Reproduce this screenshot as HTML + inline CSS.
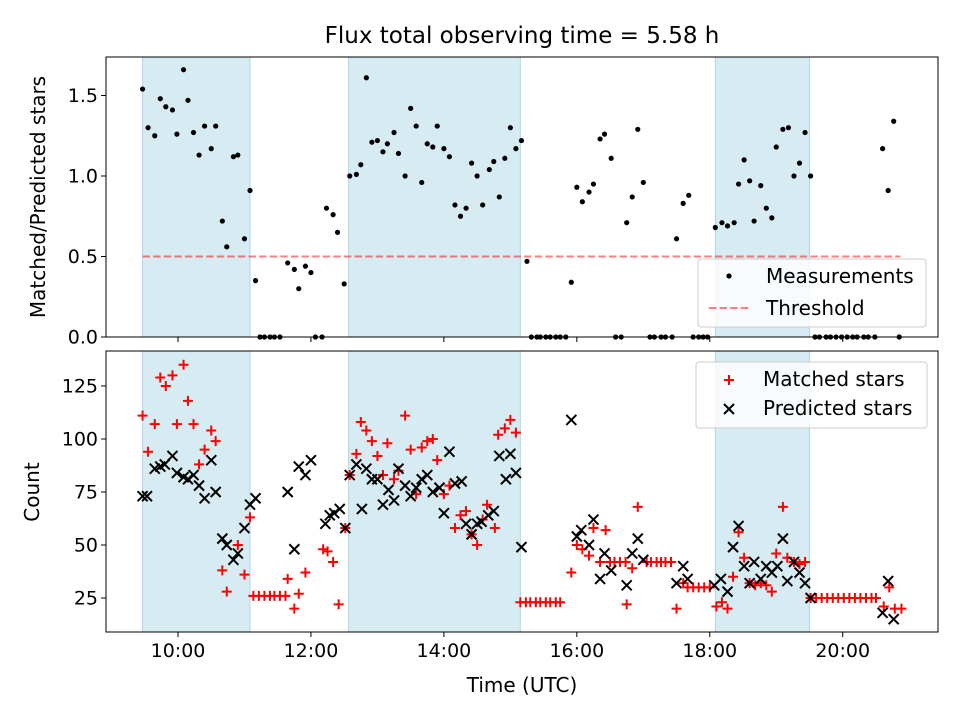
<!DOCTYPE html>
<html><head><meta charset="utf-8"><style>
body{margin:0;background:#fff}
svg{display:block;font-family:"DejaVu Sans","Liberation Sans",sans-serif}
</style></head><body>
<svg id="c" width="960" height="720" viewBox="0 0 960 720" xmlns="http://www.w3.org/2000/svg"></svg>
<script>
// Times are minutes after midnight (UTC)
const spans = [[568,665],[754,909],[1085,1170]];
const threshold = 0.5;
const ratioTimes = [568,573,579,584,589,595,599,605,609,614,619,624,630,634,640,644,650,654,660,665,670,674,678,683,687,692,699,705,709,715,720,724,730,734,740,744,750,755,761,765,770,775,780,785,789,795,799,805,810,815,820,825,830,834,840,845,850,855,860,865,870,875,881,885,890,895,900,905,910,915,919,924,927,932,936,941,945,950,955,960,965,971,975,981,985,991,995,1000,1005,1010,1015,1020,1026,1030,1036,1040,1046,1050,1056,1061,1065,1070,1074,1078,1085,1091,1096,1102,1106,1111,1116,1120,1126,1131,1136,1140,1146,1151,1156,1161,1166,1171,1175,1179,1185,1189,1194,1199,1204,1209,1213,1219,1223,1229,1236,1241,1246,1251];
const ratio = [1.54,1.30,1.25,1.48,1.43,1.41,1.26,1.66,1.47,1.27,1.13,1.31,1.17,1.31,0.72,0.56,1.12,1.13,0.61,0.91,0.35,0,0,0,0,0,0.46,0.42,0.30,0.44,0.40,0,0,0.80,0.76,0.65,0.33,1.00,1.01,1.07,1.61,1.21,1.22,1.15,1.20,1.27,1.14,1.00,1.42,1.31,0.96,1.20,1.18,1.31,1.17,1.12,0.82,0.75,0.80,1.08,1.00,0.82,1.04,1.09,0.87,1.11,1.30,1.17,1.22,0.47,0,0,0,0,0,0,0,0,0.34,0.93,0.84,0.90,0.95,1.23,1.26,1.11,0,0,0.71,0.87,1.29,0.96,0,0,0,0,0,0.61,0.83,0.88,0,0,0,0,0.68,0.71,0.69,0.71,0.95,1.10,0.97,0.72,0.94,0.80,0.74,1.18,1.29,1.30,1.00,1.08,1.27,1.00,0,0,0,0,0,0,0,0,0,0,0,0,1.17,0.91,1.34,0];
const matchedTimes = [568,573,579,584,589,595,599,605,609,614,619,624,630,634,640,644,654,660,665,668,673,678,683,687,692,697,699,705,709,715,731,735,740,745,751,755,761,765,770,775,780,785,789,795,799,805,810,815,820,825,830,834,840,845,850,855,860,865,870,875,879,886,889,895,900,905,909,914,918,923,927,932,936,941,945,955,960,965,971,975,981,986,990,994,999,1004,1005,1010,1015,1023,1027,1032,1036,1040,1045,1050,1056,1060,1065,1070,1075,1080,1086,1091,1096,1101,1106,1111,1116,1121,1126,1131,1136,1140,1146,1150,1156,1161,1166,1171,1176,1181,1186,1191,1196,1201,1206,1211,1216,1221,1226,1230,1237,1242,1247,1253];
const matched = [111,94,107,129,125,130,107,135,118,107,88,95,104,99,38,28,50,36,63,26,26,26,26,26,26,26,34,20,27,37,48,47,42,22,58,83,93,108,104,99,92,83,98,81,85,111,95,74,96,99,100,90,74,78,58,64,66,55,50,62,69,58,102,105,109,103,23,23,23,23,23,23,23,23,23,37,50,48,45,58,42,57,42,42,42,42,22,39,68,42,42,42,42,42,42,20,32,30,30,30,30,30,21,23,20,35,56,44,32,31,32,31,28,46,68,44,42,41,42,25,25,25,25,25,25,25,25,25,25,25,25,25,21,30,20,20];
const predTimes = [568,572,579,584,588,595,599,605,609,614,619,624,630,634,640,644,650,654,660,665,670,699,705,709,715,720,733,737,741,746,751,755,761,766,770,775,780,785,790,795,799,805,810,815,820,825,830,836,840,845,850,856,860,865,870,874,880,885,890,896,900,905,910,955,960,964,971,975,981,985,991,1005,1010,1015,1020,1050,1056,1060,1084,1090,1096,1101,1106,1111,1116,1120,1126,1131,1136,1141,1146,1150,1156,1161,1166,1171,1236,1241,1246];
const predicted = [73,73,86,87,88,92,84,82,81,83,78,72,90,75,53,50,43,46,58,69,72,75,48,87,83,90,60,64,65,67,58,83,88,67,86,81,81,69,76,71,86,78,73,77,81,83,75,77,65,94,79,80,60,55,60,61,64,66,92,81,93,84,49,109,54,57,50,62,34,46,38,31,46,53,43,32,40,34,31,34,28,49,59,40,32,42,34,40,37,40,53,33,42,37,32,25,18,33,15];
const xTickMin = [600,720,840,960,1080,1200];
const xTickLabels = ["10:00","12:00","14:00","16:00","18:00","20:00"];
const topTicks = [0,0.5,1.0,1.5];
const topTickLabels = ["0.0","0.5","1.0","1.5"];
const botTicks = [25,50,75,100,125];

const NS="http://www.w3.org/2000/svg";
const svg=document.getElementById('c');
function mk(tag,attrs,parent){const e=document.createElementNS(NS,tag);for(const k in attrs)e.setAttribute(k,attrs[k]);(parent||svg).appendChild(e);return e;}
const L=106,R=938;
const X0=535,X1=1286;
const FT=19, FL=20, FTT=23;
function xs(m){return L+(m-X0)/(X1-X0)*(R-L);}
const T={top:57,bot:337,min:0,max:1.739};
const B={top:351,bot:632,min:8.96,max:141.5};
function yt(v){return T.bot-(v-T.min)/(T.max-T.min)*(T.bot-T.top);}
function yb(v){return B.bot-(v-B.min)/(B.max-B.min)*(B.bot-B.top);}

let t=mk('text',{x:522,y:43,'text-anchor':'middle','font-size':FTT});t.textContent="Flux total observing time = 5.58 h";


function panel(P,name){
  const g=mk('g',{});
  
  
  spans.forEach(s=>{
    const r=mk('rect',{x:xs(s[0]),y:P.top,width:xs(s[1])-xs(s[0]),height:P.bot-P.top,fill:'#add8e6','fill-opacity':0.5,stroke:'#add8e6','stroke-width':1},g);
    
    
  });
  return g;
}
function frame(P,g){
  const f=mk('rect',{x:L,y:P.top,width:R-L,height:P.bot-P.top,fill:'none',stroke:'#000','stroke-width':1},g);
  
  
  xTickMin.forEach(m=>{mk('line',{x1:xs(m),x2:xs(m),y1:P.bot,y2:P.bot+5,stroke:'#000'},g);});
}

const gt=panel(T,'top-panel');
const th=mk('line',{x1:xs(568),x2:xs(1252),y1:yt(threshold),y2:yt(threshold),stroke:'#ff0000','stroke-opacity':0.5,'stroke-width':2,'stroke-dasharray':'7.4,3.2'},gt);


ratioTimes.forEach((m,i)=>{
  const c=mk('circle',{cx:xs(m),cy:yt(ratio[i]),r:2.6,fill:'#000'},gt);
  
  
});
frame(T,gt);
topTicks.forEach((v,i)=>{
  mk('line',{x1:L-5,x2:L,y1:yt(v),y2:yt(v),stroke:'#000'},gt);
  const tl=mk('text',{x:L-8,y:yt(v)+6.5,'text-anchor':'end','font-size':FT},gt);tl.textContent=topTickLabels[i];
  
  
});
let yl=mk('text',{transform:'translate(45,197) rotate(-90)','text-anchor':'middle','font-size':FL});yl.textContent="Matched/Predicted stars";


const lg=mk('g',{});


mk('rect',{x:698,y:259,width:228,height:68,rx:3,fill:'#fff','fill-opacity':0.8,stroke:'#ccc'},lg);
mk('circle',{cx:729,cy:276,r:2.6,fill:'#000'},lg);
let lt=mk('text',{x:766,y:283,'font-size':FL},lg);lt.textContent="Measurements";

mk('line',{x1:709,x2:749,y1:308,y2:308,stroke:'#ff0000','stroke-opacity':0.5,'stroke-width':2,'stroke-dasharray':'7.4,3.2'},lg);
lt=mk('text',{x:766,y:315,'font-size':FL},lg);lt.textContent="Threshold";


const gb=panel(B,'bottom-panel');
function plus(x,y,g){return mk('path',{d:`M${x-5},${y}H${x+5}M${x},${y-5}V${y+5}`,stroke:'#ff0000','stroke-width':2,fill:'none'},g);}
function cross(x,y,g){return mk('path',{d:`M${x-5},${y-5}L${x+5},${y+5}M${x-5},${y+5}L${x+5},${y-5}`,stroke:'#000','stroke-width':2,fill:'none'},g);}
matchedTimes.forEach((m,i)=>{
  const p=plus(xs(m),yb(matched[i]),gb);
  
  
});
predTimes.forEach((m,i)=>{
  const p=cross(xs(m),yb(predicted[i]),gb);
  
  
});
frame(B,gb);
botTicks.forEach(v=>{
  mk('line',{x1:L-5,x2:L,y1:yb(v),y2:yb(v),stroke:'#000'},gb);
  const tl=mk('text',{x:L-8,y:yb(v)+6.5,'text-anchor':'end','font-size':FT},gb);tl.textContent=String(v);
  
  
});
xTickMin.forEach((m,i)=>{
  const tl=mk('text',{x:xs(m),y:B.bot+25,'text-anchor':'middle','font-size':FT},gb);tl.textContent=xTickLabels[i];
  
  
});
yl=mk('text',{transform:'translate(39,492) rotate(-90)','text-anchor':'middle','font-size':FL});yl.textContent="Count";

let xl=mk('text',{x:522,y:692,'text-anchor':'middle','font-size':FL});xl.textContent="Time (UTC)";


const lb=mk('g',{});


mk('rect',{x:696,y:362,width:231,height:66,rx:3,fill:'#fff','fill-opacity':0.8,stroke:'#ccc'},lb);
plus(729,380,lb);
lt=mk('text',{x:763,y:386,'font-size':FL},lb);lt.textContent="Matched stars";

cross(729,409,lb);
lt=mk('text',{x:763,y:415,'font-size':FL},lb);lt.textContent="Predicted stars";

</script>
</body></html>
